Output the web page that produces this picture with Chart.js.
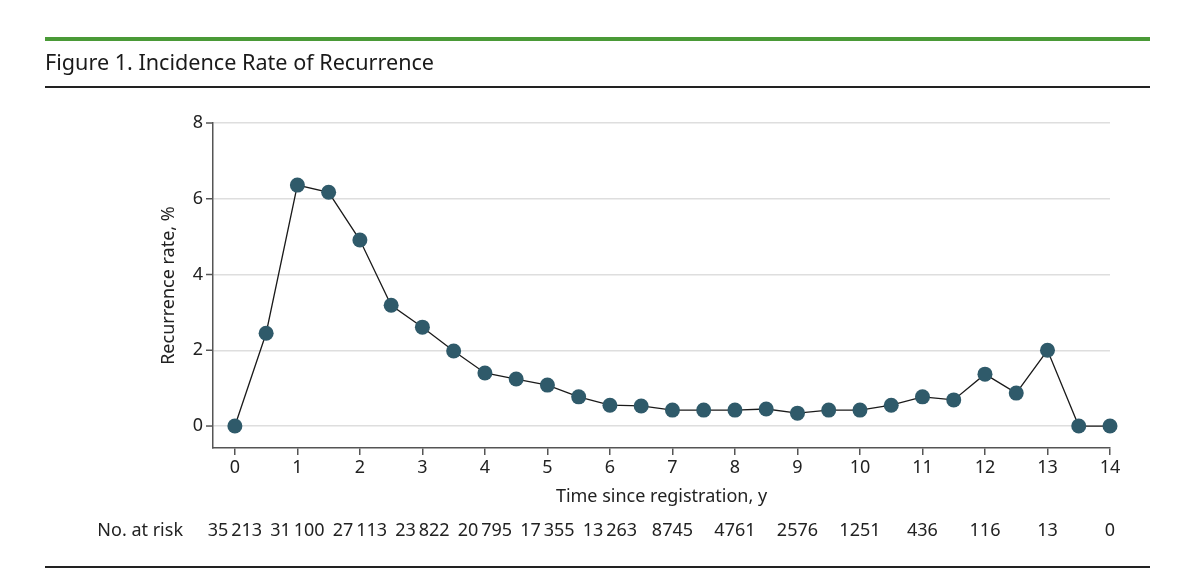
<!DOCTYPE html>
<html>
<head>
<meta charset="utf-8">
<script src="https://cdn.jsdelivr.net/npm/chart.js@4"></script>
<style>
  body { margin: 0; background: #fff; font-family: "Noto Sans", sans-serif; }
  #wrap { position: relative; width: 1200px; height: 582px; }
  #chart { position: absolute; left: 0; top: 0; }
  .rule-green { position: absolute; left: 45px; top: 37px; width: 1105px; height: 4px; background: #4a9a37; }
  .title { position: absolute; left: 45px; top: 47px; font-size: 21.6px; color: #1a1a1a; white-space: nowrap; }
  .rule-top { position: absolute; left: 45px; top: 86px; width: 1105px; height: 2px; background: #222; }
  .rule-bottom { position: absolute; left: 45px; top: 566px; width: 1105px; height: 2px; background: #222; }
</style>
</head>
<body>
<div id="wrap">
  <canvas id="chart" width="1200" height="582"></canvas>
  <div class="rule-green"></div>
  <div class="title">Figure 1. Incidence Rate of Recurrence</div>
  <div class="rule-top"></div>
  <div class="rule-bottom"></div>
</div>
<script>
// Daten
const years = [0, 0.5, 1, 1.5, 2, 2.5, 3, 3.5, 4, 4.5, 5, 5.5, 6, 6.5, 7, 7.5, 8, 8.5, 9, 9.5, 10, 10.5, 11, 11.5, 12, 12.5, 13, 13.5, 14];
const recurrenceRate = [0, 2.45, 6.36, 6.17, 4.91, 3.19, 2.61, 1.98, 1.40, 1.24, 1.08, 0.77, 0.55, 0.53, 0.42, 0.42, 0.42, 0.45, 0.34, 0.42, 0.42, 0.55, 0.77, 0.69, 1.37, 0.87, 2.0, 0, 0];
const xTicks = [0, 1, 2, 3, 4, 5, 6, 7, 8, 9, 10, 11, 12, 13, 14];
const yTicks = [0, 2, 4, 6, 8];
const atRisk = ['35\u2009213', '31\u2009100', '27\u2009113', '23\u2009822', '20\u2009795', '17\u2009355', '13\u2009263', '8745', '4761', '2576', '1251', '436', '116', '13', '0'];

const fontFamily = '"Noto Sans", sans-serif';
const axisColor = '#555';
const textColor = '#222';

// Tick-Striche der y-Achse dunkel zeichnen, Zahlen at risk darunter
const extrasPlugin = {
    id: 'extras',
    afterDraw(chart) {
        const ctx = chart.ctx;
        const y = chart.scales.y;
        const x = chart.scales.x;
        ctx.save();
        ctx.strokeStyle = axisColor;
        ctx.lineWidth = 1.5;
        yTicks.forEach(v => {
            const py = y.getPixelForValue(v);
            ctx.beginPath();
            ctx.moveTo(chart.chartArea.left - 7, py);
            ctx.lineTo(chart.chartArea.left, py);
            ctx.stroke();
        });
        ctx.fillStyle = textColor;
        ctx.font = '18px ' + fontFamily;
        ctx.textBaseline = 'middle';
        ctx.textAlign = 'right';
        ctx.fillText('No. at risk', 183, 531);
        ctx.textAlign = 'center';
        xTicks.forEach((v, i) => {
            ctx.fillText(atRisk[i], x.getPixelForValue(v), 531);
        });
        ctx.restore();
    }
};

new Chart(document.getElementById('chart'), {
    type: 'line',
    data: {
        datasets: [{
            data: years.map((t, i) => ({ x: t, y: recurrenceRate[i] })),
            borderColor: '#1a1a1a',
            borderWidth: 1.3,
            pointRadius: 7.5,
            pointBackgroundColor: '#2f5a6a',
            pointBorderColor: '#2f5a6a',
            pointBorderWidth: 0,
            tension: 0,
            clip: false
        }]
    },
    options: {
        responsive: false,
        animation: false,
        events: [],
        layout: { padding: { left: 158, right: 90, top: 123, bottom: 74 } },
        plugins: { legend: { display: false }, tooltip: { enabled: false } },
        scales: {
            x: {
                type: 'linear',
                min: -0.35,
                max: 14,
                afterBuildTicks: axis => { axis.ticks = xTicks.map(v => ({ value: v })); },
                afterFit: axis => { axis.height = 60; },
                grid: { drawOnChartArea: false, drawTicks: true, tickLength: 7, color: axisColor, lineWidth: 1.5 },
                border: { color: axisColor, width: 1.5 },
                ticks: { color: textColor, font: { family: fontFamily, size: 18 }, padding: 2, maxRotation: 0 },
                title: { display: true, text: 'Time since registration, y', color: textColor, font: { family: fontFamily, size: 18 }, padding: { top: 0, bottom: 0 } }
            },
            y: {
                min: -0.58,
                max: 8,
                afterBuildTicks: axis => { axis.ticks = yTicks.map(v => ({ value: v })); },
                afterFit: axis => { axis.width = 55; },
                grid: { drawTicks: false, color: '#dedede', lineWidth: 1.5 },
                border: { color: axisColor, width: 1.5 },
                ticks: { color: textColor, font: { family: fontFamily, size: 18 }, padding: 10 },
                title: { display: true, text: 'Recurrence rate, %', color: textColor, font: { family: fontFamily, size: 18 }, padding: 0 }
            }
        }
    },
    plugins: [extrasPlugin]
});
</script>
</body>
</html>
